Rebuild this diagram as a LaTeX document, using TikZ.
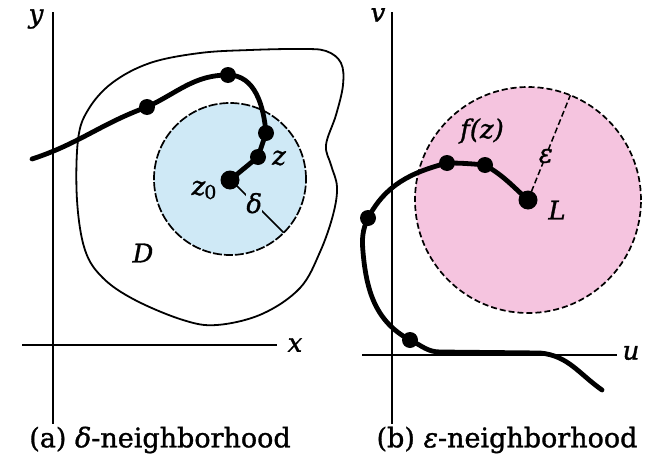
\documentclass[tikz,border=0pt]{standalone}
\usepackage{fontspec}
\usetikzlibrary{calc}
\setmainfont{DejaVu Serif}
\newfontfamily\heavyserif{DejaVu Serif}[FakeBold=1.2]
\definecolor{diskblue}{HTML}{CFE9F6}
\definecolor{diskpink}{HTML}{F5C4DF}
\tikzset{
  axisline/.style={line width=1.6pt},
  dot/.style={circle,fill=black,inner sep=0pt,minimum size=16pt},
  bigdot/.style={dot,minimum size=19pt},
  curvepath/.style={line width=4.8pt,line cap=round,line join=round},
  lbl/.style={font=\heavyserif\fontsize{26}{30}\selectfont\itshape,inner sep=1pt},
  captext/.style={font=\heavyserif\fontsize{27}{31}\selectfont},
}
\begin{document}
\begin{tikzpicture}[x=1pt,y=-1pt]
\useasboundingbox (0,0) rectangle (654,474);
\fill[white] (0,0) rectangle (654,474);
% ---------- left panel ----------
\coordinate (ytop) at (53,12); \coordinate (ybot) at (53,424);
\coordinate (xl) at (22,345); \coordinate (xr) at (277,345);
\draw[axisline] (ytop) -- (ybot);
\draw[axisline] (xl) -- (xr);
\node[lbl] (ylab) at (36,19) {y};
\node[lbl] (xlab) at (295,345) {x};
% region D
\draw[line width=1.8pt] plot[smooth cycle,tension=0.6] coordinates {
 (78,140) (77,200) (85,250) (103,278) (135,300) (183,320) (217,325) (262,314)
 (300,288) (320,252) (333,215) (337,187) (331,165) (326,145) (336,115) (343,85)
 (341,63) (326,51) (300,49) (250,50) (200,53) (150,63) (112,83) (88,110)};
\node[lbl] (Dlab) at (143,253) {D};
% delta disk
\coordinate (zc) at (230,179);
\fill[diskblue] (zc) circle[radius=76pt];
\draw[line width=1.7pt,dash pattern=on 9pt off 2pt] (zc) circle[radius=76pt];
\coordinate (dedge) at ($(zc)+(-45:76pt)$);
\draw[line width=1.5pt] (zc) -- (dedge) node[pos=0.45,fill=diskblue,lbl,inner sep=0pt] (dlab) {δ};
% path in D
\coordinate (a0) at (32,159);
\node[dot] (p1) at (147,107) {};
\node[dot] (p2) at (228,75) {};
\node[dot] (p3) at (266,133) {};
\node[dot] (p4) at (258,157) {};
\node[bigdot] (z0) at (230,180) {};
\draw[curvepath] (a0) to[out=18,in=200] (p1.center) to[out=25,in=180] (p2.center)
  to[out=0,in=95] (p3.center) -- (p4.center) -- (z0.center);
\node[lbl] (zlab) at (279,158) {z};
\node[lbl,fill=diskblue,inner sep=0pt] (z0lab) at (204,190) {z\kern-1pt\raisebox{-4pt}{\fontsize{19}{20}\selectfont\upshape 0}};
% ---------- right panel ----------
\coordinate (vtop) at (392,12); \coordinate (vbot) at (392,424);
\coordinate (ul) at (362,355); \coordinate (ur) at (617,355);
\draw[axisline] (vtop) -- (vbot);
\draw[axisline] (ul) -- (ur);
\node[lbl] (vlab) at (378,15) {v};
\node[lbl] (ulab) at (631,353) {u};
% epsilon disk
\coordinate (Lc) at (528,200);
\fill[diskpink] (Lc) circle[radius=113pt];
\draw[line width=1.7pt,dash pattern=on 6pt off 3pt] (Lc) circle[radius=113pt];
\coordinate (eedge) at ($(Lc)+(68:113pt)$);
\draw[line width=1.5pt,dash pattern=on 6pt off 3pt] (Lc) -- (eedge) node[pos=0.42,fill=diskpink,lbl,inner sep=0pt] (elab) {ε};
% image path
\coordinate (e0) at (602,390);
\coordinate (e1) at (540,353);
\coordinate (e2) at (440,352);
\coordinate (e3) at (363,252);
\node[dot] (q1) at (410,340) {};
\node[dot] (q2) at (368,218) {};
\node[dot] (q3) at (447,163) {};
\node[dot] (q4) at (485,165) {};
\node[bigdot] (L) at (528,200) {};
\draw[curvepath] (e0) to[out=145,in=-5] (e1) -- (e2) to[out=180,in=-25] (q1.center)
  to[out=152,in=-85] (e3) to[out=95,in=-115] (q2.center)
  to[out=62,in=195] (q3.center) to[out=0,in=175] (q4.center) to[out=-30,in=138] (L.center);
\node[lbl] (Llab) at (557,210) {L};
\node[lbl,fill=diskpink,inner sep=0pt] (flab) at (482,131) {f(z)};
% captions
\node[captext] (capa) at (160,440) {(a) {\itshape δ}-neighborhood};
\node[captext] (capb) at (507,440) {(b) {\itshape ε}-neighborhood};
\end{tikzpicture}
\end{document}
